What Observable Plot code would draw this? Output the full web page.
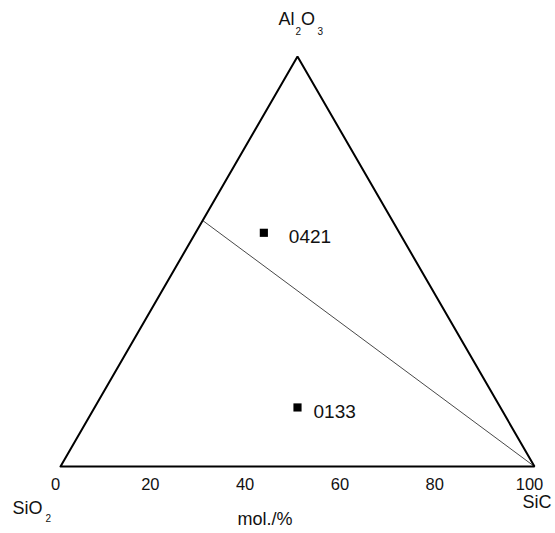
<!DOCTYPE html>
<html>
<head>
<meta charset="utf-8">
<script src="https://cdn.jsdelivr.net/npm/d3@7"></script>
<script src="https://cdn.jsdelivr.net/npm/@observablehq/plot@0.6"></script>
<style>
  html, body { margin: 0; padding: 0; background: #fff; }
</style>
</head>
<body>
<div id="chart"></div>
<script>
// Ternary data (mol.%)
const cornerNames = ["SiO2", "SiC", "Al2O3"];
const cornerSiO2 = [100, 0, 0];
const cornerSiC = [0, 100, 0];
const cornerAl2O3 = [0, 0, 100];

const tickValues = [0, 20, 40, 60, 80, 100];

const sampleNames = ["0421", "0133"];
const sampleSiO2 = [28.6, 42.8];
const sampleSiC = [14.4, 42.8];
const sampleAl2O3 = [57.0, 14.4];

// tie line: from (SiO2 40, Al2O3 60) to SiC
const lineSiO2 = [40, 0];
const lineSiC = [0, 100];
const lineAl2O3 = [60, 0];

const H = Math.sqrt(3) / 2;
const tx = (sio2, sic, al) => (sic + al / 2) * 100 / (sio2 + sic + al);
const ty = (sio2, sic, al) => al * H * 100 / (sio2 + sic + al);

const tri = [0, 1, 2, 0].map(i => ({x: tx(cornerSiO2[i], cornerSiC[i], cornerAl2O3[i]), y: ty(cornerSiO2[i], cornerSiC[i], cornerAl2O3[i])}));
const tie = lineSiO2.map((_, i) => ({x: tx(lineSiO2[i], lineSiC[i], lineAl2O3[i]), y: ty(lineSiO2[i], lineSiC[i], lineAl2O3[i])}));
const samples = sampleNames.map((n, i) => ({name: n, x: tx(sampleSiO2[i], sampleSiC[i], sampleAl2O3[i]), y: ty(sampleSiO2[i], sampleSiC[i], sampleAl2O3[i])}));
const ticks = tickValues.map(v => ({label: String(v), x: v, y: 0}));
const corner = name => { const i = cornerNames.indexOf(name); return [{x: tx(cornerSiO2[i], cornerSiC[i], cornerAl2O3[i]), y: ty(cornerSiO2[i], cornerSiC[i], cornerAl2O3[i])}]; };

const font = "Arial, 'Liberation Sans', sans-serif";
const piece = (name, text, dx, dy, size) => Plot.text(corner(name), {x: "x", y: "y", text: () => text, dx, dy, fontSize: size, textAnchor: "start", fill: "#111"});

const chart = Plot.plot({
  width: 555,
  height: 533,
  marginTop: 0, marginRight: 0, marginBottom: 0, marginLeft: 0,
  style: {fontFamily: font, background: "#fff"},
  x: {domain: [0, 100], range: [60, 534], axis: null},
  y: {domain: [0, 100 * H], range: [466, 56], axis: null},
  marks: [
    Plot.line(tie, {x: "x", y: "y", stroke: "#333", strokeWidth: 0.9}),
    Plot.line(tri, {x: "x", y: "y", stroke: "#000", strokeWidth: 2, strokeLinejoin: "miter"}),
    Plot.dot(samples, {x: "x", y: "y", symbol: "square", r: 4.6, fill: "#000", stroke: null}),
    Plot.text([samples[0]], {x: "x", y: "y", text: "name", dx: 25, dy: 4.5, fontSize: 19, textAnchor: "start", fill: "#111"}),
    Plot.text([samples[1]], {x: "x", y: "y", text: "name", dx: 16, dy: 4, fontSize: 19, textAnchor: "start", fill: "#111"}),
    Plot.text(ticks, {x: "x", y: "y", text: "label", dx: -5, dy: 18.5, fontSize: 16.5, fill: "#111"}),
    // Al2O3 label
    piece("Al2O3", "Al", -19, -37.5, 18),
    piece("Al2O3", "2", -2, -24.5, 10),
    piece("Al2O3", "O", 3.5, -37.5, 18),
    piece("Al2O3", "3", 20, -24.5, 10),
    // SiO2 label
    piece("SiO2", "SiO", -48, 41.5, 18),
    piece("SiO2", "2", -15, 52.5, 10),
    // SiC label
    piece("SiC", "SiC", -12, 36, 18),
    // axis unit
    Plot.text([{x: 50, y: 0}], {x: "x", y: "y", text: () => "mol./%", dx: -32.5, dy: 52.5, fontSize: 18, fill: "#111"})
  ]
});
document.getElementById("chart").appendChild(chart);
</script>
</body>
</html>
